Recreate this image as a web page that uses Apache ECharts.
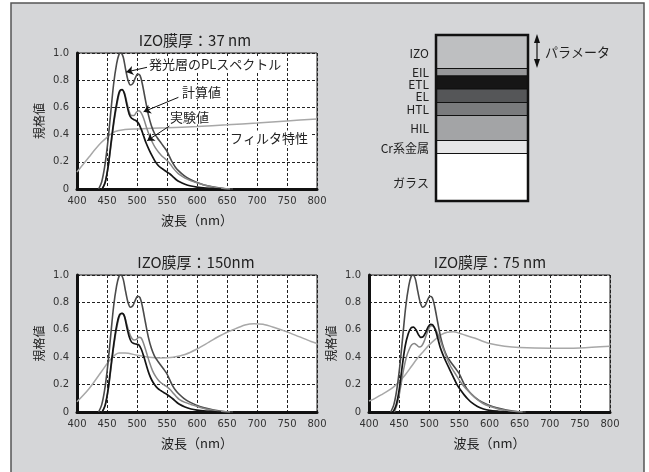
<!DOCTYPE html>
<html><head><meta charset="utf-8">
<script src="https://cdn.jsdelivr.net/npm/echarts@6/dist/echarts.min.js"></script>
<style>html,body{margin:0;padding:0;background:#fff;}#c{width:649px;height:472px;}</style>
</head><body><div id="c"></div>
<script>
// ---- data ----
const xTicks = [400, 450, 500, 550, 600, 650, 700, 750, 800];
const yTickLabels = ['0', '0.2', '0.4', '0.6', '0.8', '1.0'];
const titles = ['IZO膜厚：37 nm', 'IZO膜厚：150nm', 'IZO膜厚：75 nm'];

// PL spectrum of emitting layer (same in all panels)
const plWl = [436,441,446,451,456,461,466,470,473,477,481,485,489,493,497,501,505,509,514,519,524,529,534,539,544,549,554,559,564,569,578,588,598,612,628,644,660];
const plV  = [0,0.05,0.16,0.33,0.55,0.77,0.92,0.99,1.0,0.97,0.88,0.8,0.765,0.775,0.815,0.845,0.835,0.77,0.655,0.545,0.465,0.41,0.375,0.345,0.315,0.285,0.24,0.195,0.16,0.135,0.1,0.072,0.052,0.03,0.014,0.004,0];

// Panel 1 (37 nm)
const calc1Wl = [442,447,452,457,462,467,471,475,479,483,487,491,495,499,503,507,511,516,521,526,531,536,541,546,551,556,561,566,571,580,590,600,615,630,645,655];
const calc1V  = [0,0.05,0.16,0.33,0.5,0.63,0.71,0.73,0.71,0.64,0.57,0.54,0.54,0.565,0.575,0.56,0.52,0.45,0.39,0.34,0.3,0.27,0.245,0.225,0.205,0.18,0.15,0.125,0.105,0.08,0.06,0.045,0.025,0.012,0.004,0];
const exp1Wl = [442,447,452,457,462,467,471,475,479,483,487,491,495,499,503,507,511,515,520,525,530,535,540,545,550,555,560,565,570,580,590,600,615,630,640];
const exp1V  = [0,0.05,0.17,0.35,0.52,0.65,0.72,0.73,0.7,0.62,0.55,0.52,0.51,0.5,0.48,0.44,0.39,0.34,0.29,0.245,0.205,0.175,0.155,0.14,0.125,0.11,0.09,0.07,0.055,0.035,0.022,0.014,0.007,0.002,0];
const filt1Wl = [400,410,420,430,440,450,460,470,480,500,550,600,650,700,750,800];
const filt1V  = [0.125,0.18,0.235,0.29,0.34,0.38,0.415,0.43,0.438,0.442,0.45,0.46,0.472,0.485,0.5,0.515];

// Panel 2 (150 nm)
const calc2Wl = [442,447,452,457,462,467,471,475,479,483,487,491,495,499,503,507,511,516,521,526,531,536,541,546,551,556,561,566,571,580,590,600,615,630,645,655];
const calc2V  = [0,0.05,0.16,0.33,0.5,0.63,0.7,0.72,0.7,0.64,0.58,0.54,0.525,0.53,0.545,0.54,0.5,0.43,0.36,0.3,0.26,0.23,0.21,0.195,0.18,0.16,0.135,0.11,0.09,0.07,0.055,0.04,0.022,0.01,0.003,0];
const exp2Wl = [442,447,452,457,462,467,471,475,479,483,487,491,495,499,503,507,511,515,520,525,530,535,540,545,550,555,560,565,570,580,590,600,615,630,640];
const exp2V  = [0,0.05,0.17,0.35,0.52,0.65,0.71,0.72,0.7,0.62,0.55,0.51,0.5,0.495,0.49,0.46,0.41,0.35,0.28,0.23,0.195,0.17,0.155,0.14,0.128,0.112,0.095,0.075,0.058,0.036,0.022,0.014,0.007,0.002,0];
const filt2Wl = [400,420,440,455,470,480,500,520,540,560,580,600,620,640,660,680,695,710,730,750,770,790,800];
const filt2V  = [0.075,0.17,0.29,0.38,0.43,0.43,0.415,0.4,0.395,0.4,0.42,0.46,0.51,0.56,0.6,0.635,0.645,0.64,0.615,0.585,0.55,0.515,0.5];

// Panel 3 (75 nm)
const calc3Wl = [442,447,452,457,462,467,471,475,479,483,487,491,495,499,503,507,511,516,521,526,531,536,541,546,551,556,561,566,571,580,590,600,615,630,645,655];
const calc3V  = [0,0.06,0.17,0.3,0.4,0.46,0.49,0.5,0.49,0.475,0.48,0.51,0.56,0.605,0.63,0.625,0.6,0.55,0.49,0.43,0.375,0.33,0.295,0.26,0.225,0.195,0.17,0.15,0.125,0.09,0.06,0.042,0.022,0.01,0.003,0];
const exp3Wl = [440,445,450,455,460,465,470,474,478,482,486,490,494,498,502,506,510,514,518,523,528,534,540,546,552,558,564,570,580,590,600,615,630];
const exp3V  = [0,0.05,0.16,0.33,0.48,0.57,0.615,0.62,0.6,0.565,0.545,0.55,0.58,0.62,0.64,0.635,0.6,0.54,0.475,0.415,0.365,0.31,0.255,0.2,0.16,0.125,0.095,0.07,0.04,0.022,0.012,0.005,0];
const filt3Wl = [400,410,420,430,440,450,460,470,480,490,500,510,520,530,540,550,560,575,590,600,625,650,700,750,800];
const filt3V  = [0.08,0.1,0.125,0.15,0.18,0.22,0.27,0.33,0.39,0.44,0.49,0.53,0.565,0.582,0.585,0.575,0.56,0.54,0.515,0.5,0.48,0.47,0.465,0.468,0.48];

// layer stack
const layerNames = ['IZO','EIL','ETL','EL','HTL','HIL','Cr系金属','ガラス'];

// ---- chart ----
const zip = (a, b) => a.map((x, i) => [x, b[i]]);
const COL = { pl: '#4a4a4a', calc: '#878787', exp: '#141414', filt: '#a8a8a8' };
const CJK = '"Noto Sans CJK JP", sans-serif';
const NUMF = '"DejaVu Sans", sans-serif';

const grids = [
  { left: 77, top: 53, width: 240, height: 136 },
  { left: 77, top: 275, width: 240, height: 137 },
  { left: 369, top: 275, width: 241, height: 137 }
].map(g => Object.assign(g, { show: true, backgroundColor: '#fff', borderColor: '#222', borderWidth: 1 }));

const xAxes = grids.map((g, i) => ({
  type: 'value', gridIndex: i, min: xTicks[0], max: xTicks[xTicks.length - 1], interval: 50,
  name: '波長（nm）', nameLocation: 'middle', nameGap: 25,
  nameTextStyle: { fontFamily: CJK, fontSize: 13, color: '#222' },
  axisLine: { onZero: false, lineStyle: { color: '#111', width: 3 } },
  axisTick: { show: false },
  axisLabel: { margin: 7, fontFamily: NUMF, fontSize: 10, color: '#333',
    formatter: v => String(xTicks[xTicks.indexOf(v)]) },
  splitLine: { show: true, lineStyle: { color: '#222', type: [3, 2], width: 1 } }
}));
const yAxes = grids.map((g, i) => ({
  type: 'value', gridIndex: i, min: 0, max: 1, interval: 0.2,
  name: '規格値', nameLocation: 'middle', nameGap: 32, nameRotate: 90,
  nameTextStyle: { fontFamily: CJK, fontSize: 12, color: '#222' },
  axisLine: { onZero: false, lineStyle: { color: '#111', width: 3 } },
  axisTick: { show: false },
  axisLabel: { margin: 8, fontFamily: NUMF, fontSize: 10, color: '#333',
    formatter: v => yTickLabels[Math.round(v * 5)] },
  splitLine: { show: true, lineStyle: { color: '#222', type: [3, 2], width: 1 } }
}));

function line(idx, wl, v, color, w, extra) {
  return Object.assign({
    type: 'line', xAxisIndex: idx, yAxisIndex: idx, data: zip(wl, v),
    showSymbol: false, smooth: 0.3, lineStyle: { color: color, width: w },
    itemStyle: { color: color }, animation: false, silent: true, z: 3
  }, extra || {});
}

const arrows = {
  markLine: {
    silent: true, symbol: ['none', 'arrow'], symbolSize: 7, animation: false,
    label: { show: false }, lineStyle: { color: '#111', width: 1, type: 'solid' },
    data: [
      [{ coord: [517, 0.895] }, { coord: [482, 0.86] }],
      [{ coord: [569, 0.674] }, { coord: [511, 0.568] }],
      [{ coord: [554, 0.463] }, { coord: [517, 0.355] }]
    ]
  }
};

const series = [
  line(0, filt1Wl, filt1V, COL.filt, 1.5), line(0, plWl, plV, COL.pl, 1.6),
  line(0, calc1Wl, calc1V, COL.calc, 1.5), line(0, exp1Wl, exp1V, COL.exp, 1.7, arrows),
  line(1, filt2Wl, filt2V, COL.filt, 1.5), line(1, plWl, plV, COL.pl, 1.6),
  line(1, calc2Wl, calc2V, COL.calc, 1.5), line(1, exp2Wl, exp2V, COL.exp, 1.7),
  line(2, filt3Wl, filt3V, COL.filt, 1.5), line(2, plWl, plV, COL.pl, 1.6),
  line(2, calc3Wl, calc3V, COL.calc, 1.5), line(2, exp3Wl, exp3V, COL.exp, 1.7)
];

function txt(x, y, s, size, align, bg) {
  const st = { text: s, fill: '#222', font: size + 'px ' + CJK, align: align || 'left', verticalAlign: 'middle' };
  if (bg) { st.backgroundColor = bg; st.padding = [1, 2]; }
  return { type: 'text', x: x, y: y, z: 10, silent: true, style: st };
}

const graphic = [
  { type: 'rect', z: -100, silent: true, shape: { x: 11, y: 3, width: 633, height: 520 },
    style: { fill: '#d5d6d8', stroke: '#555', lineWidth: 1.5 } },
  txt(195, 40, titles[0], 15, 'center'),
  txt(196, 262, titles[1], 15, 'center'),
  txt(490, 262, titles[2], 15, 'center'),
  txt(147, 64, '発光層のPLスペクトル', 13, 'left', '#fff'),
  txt(180, 92, '計算値', 13, 'left', '#fff'),
  txt(168, 117, '実験値', 13, 'left', '#fff'),
  txt(228, 138, 'フィルタ特性', 13, 'left', '#fff')
];

// layer stack diagram
const layerEdges = [35, 68.5, 76, 89, 102.5, 115.5, 140.5, 153.5, 201];
const layerFills = ['#bebfc1', '#97989a', '#161616', '#555658', '#7a7b7d', '#a3a4a6', '#e6e6e7', '#ffffff'];
const labelY = [53, 72, 84.5, 96.5, 109, 128, 148, 183];
layerNames.forEach((n, i) => {
  graphic.push({ type: 'rect', z: 5, silent: true,
    shape: { x: 436, y: layerEdges[i], width: 92, height: layerEdges[i + 1] - layerEdges[i] },
    style: { fill: layerFills[i], stroke: '#111', lineWidth: 1.2 } });
  graphic.push(txt(429, labelY[i], n, 12, 'right'));
});
graphic.push({ type: 'rect', z: 6, silent: true, shape: { x: 436, y: 35, width: 92, height: 166 },
  style: { fill: 'none', stroke: '#111', lineWidth: 2.5 } });
graphic.push({ type: 'line', z: 6, silent: true, shape: { x1: 537, y1: 40, x2: 537, y2: 62 },
  style: { stroke: '#111', lineWidth: 1.2 } });
graphic.push({ type: 'polygon', z: 6, silent: true, shape: { points: [[537, 34], [534, 43], [540, 43]] }, style: { fill: '#111' } });
graphic.push({ type: 'polygon', z: 6, silent: true, shape: { points: [[537, 68], [534, 59], [540, 59]] }, style: { fill: '#111' } });
graphic.push(txt(545, 52, 'パラメータ', 13));

const chart = echarts.init(document.getElementById('c'), null, { renderer: 'canvas' });
chart.setOption({
  backgroundColor: '#ffffff', animation: false,
  grid: grids, xAxis: xAxes, yAxis: yAxes, series: series, graphic: graphic
});
</script>
</body></html>
